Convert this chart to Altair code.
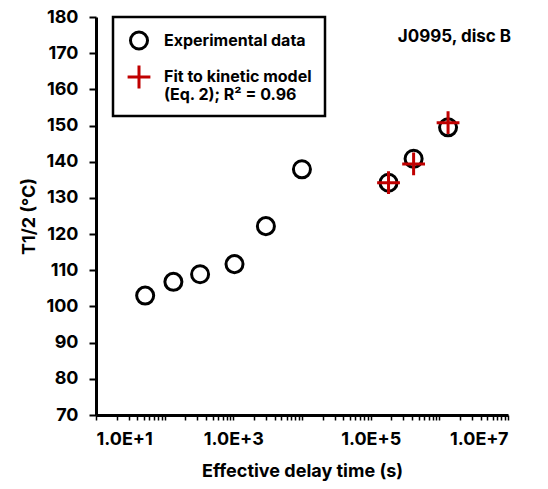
import altair as alt
import pandas as pd

# Experimental data
exp_x = [52, 134, 328, 1040, 2980, 9980, 182000, 422000, 1340000]
exp_y = [103.0, 106.8, 108.9, 111.7, 122.2, 137.9, 134.2, 140.8, 149.5]
# Fit to kinetic model
fit_x = [182000, 422000, 1340000]
fit_y = [134.2, 139.4, 150.8]

series_names = ["Experimental data", "Fit to kinetic model"]
y_ticks = [70, 80, 90, 100, 110, 120, 130, 140, 150, 160, 170, 180]
x_ticks = [m * 10 ** k for k in range(1, 7) for m in range(1, 10)] + [10 ** 7]

annot_text = ["J0995, disc B"]
annot_x = [1.66e6]
annot_y = [174.5]

df = pd.DataFrame({
    "t": exp_x + fit_x,
    "T": exp_y + fit_y,
    "series": [series_names[0]] * len(exp_x) + [series_names[1]] * len(fit_x),
})
ann = pd.DataFrame({"t": annot_x, "T": annot_y, "txt": annot_text})

FONT = "Inter"

xscale = alt.Scale(type="log", domain=[10, 1e7], nice=False)
yscale = alt.Scale(domain=[70, 180], nice=False, zero=False)

label_expr = (
    "(abs(log(datum.value)/LN10 - round(log(datum.value)/LN10)) < 1e-6 && "
    "round(log(datum.value)/LN10) % 2 == 1) ? '1.0E+' + round(log(datum.value)/LN10) : ''"
)

xaxis = alt.Axis(values=x_ticks, labelExpr=label_expr, labelOverlap=False,
                 grid=False, tickSize=5, tickWidth=1.5, labelPadding=10,
                 titlePadding=14)
yaxis = alt.Axis(values=y_ticks, grid=False, tickSize=7, tickWidth=2,
                 labelOverlap=False, labelPadding=11, titlePadding=7)

points = alt.Chart(df).mark_point(filled=False, strokeWidth=3, opacity=1).encode(
    x=alt.X("t:Q", scale=xscale, title="Effective delay time (s)", axis=xaxis),
    y=alt.Y("T:Q", scale=yscale, title="T1/2 (°C)", axis=yaxis),
    shape=alt.Shape("series:N", scale=alt.Scale(domain=series_names,
                    range=["circle", "M-1,0H1M0,-1V1"]),
                    legend=alt.Legend(
                        title=None, orient="none", legendX=17, legendY=0,
                        labelExpr="datum.label == 'Fit to kinetic model' ? ['Fit to kinetic model', '(Eq. 2); R² = 0.96'] : datum.label",
                    )),
    stroke=alt.Stroke("series:N", scale=alt.Scale(domain=series_names,
                      range=["#000000", "#c00000"])),
    size=alt.Size("series:N", scale=alt.Scale(domain=series_names, range=[290, 520])),
)

annot = alt.Chart(ann).mark_text(font=FONT, fontWeight="bold", fontSize=17,
                                 align="center", baseline="middle", color="black").encode(
    x=alt.X("t:Q", scale=xscale, title="Effective delay time (s)", axis=xaxis),
    y=alt.Y("T:Q", scale=yscale, title="T1/2 (°C)", axis=yaxis),
    text="txt:N",
)

chart = alt.layer(points, annot).properties(
    width=412, height=398,
    autosize=alt.AutoSizeParams(type="none"),
    padding={"left": 88, "top": 9, "right": 32, "bottom": 66},
).configure_view(stroke=None).configure_axis(
    domainColor="black", domainWidth=3, tickColor="black",
    labelFont=FONT, labelFontSize=18, labelFontWeight="bold", labelColor="black",
    titleFont=FONT, titleFontSize=18, titleFontWeight="bold", titleColor="black",
).configure_legend(
    strokeColor="black", strokeWidth=2.5, padding=13, cornerRadius=0,
    labelFont=FONT, labelFontSize=16, labelFontWeight="bold", labelColor="black",
    symbolStrokeWidth=3, labelOffset=12, rowPadding=3, labelLimit=300,
    symbolType="circle", fillColor="white",
)

chart.save("out.html", embed_options={"renderer": "svg", "actions": False})
